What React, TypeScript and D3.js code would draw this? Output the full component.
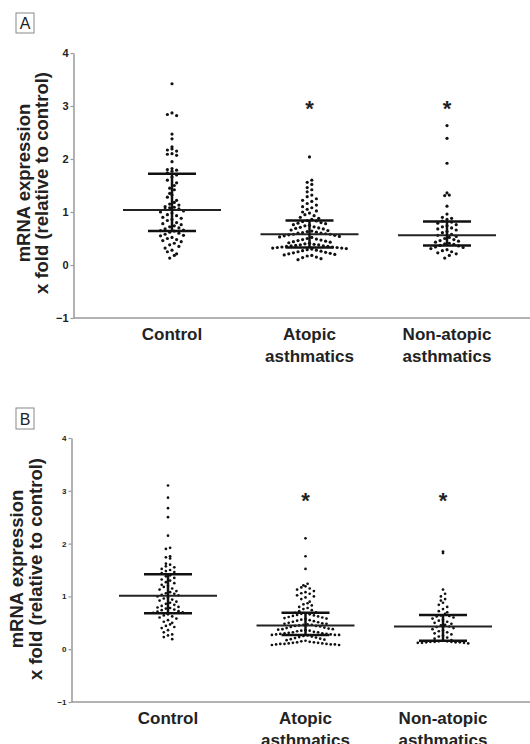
import React, { useEffect, useRef } from 'react';
import * as d3 from 'd3';

// categories and tick labels
const categories = ['Control', 'Atopic asthmatics', 'Non-atopic asthmatics'];
const categoryLines = [['Control'], ['Atopic', 'asthmatics'], ['Non-atopic', 'asthmatics']];
const yTicks = [-1, 0, 1, 2, 3, 4];
const yTitleLines = ['mRNA expression', 'x fold (relative to control)'];

// panel A values
const controlA = [
  3.42, 2.87, 2.84, 2.82, 2.47, 2.38, 2.23, 2.19, 2.17, 2.15, 2.1, 2.09, 2.07, 1.95, 1.82, 1.8, 1.79, 1.77, 1.74,
  1.7, 1.66, 1.6, 1.55, 1.5, 1.45, 1.42, 1.35, 1.32, 1.28, 1.22, 1.18, 1.15, 1.13, 1.1, 1.09, 1.08, 1.06, 1.05,
  1.02, 1.0, 0.98, 0.95, 0.93, 0.9, 0.88, 0.86, 0.84, 0.8, 0.78, 0.76, 0.74, 0.72, 0.7, 0.68, 0.66, 0.65, 0.64,
  0.62, 0.6, 0.58, 0.56, 0.55, 0.52, 0.5, 0.48, 0.46, 0.44, 0.41, 0.38, 0.35, 0.32, 0.28, 0.25, 0.21, 0.18, 0.13,
];
const atopicA = [
  2.04, 1.6, 1.56, 1.52, 1.46, 1.42, 1.38, 1.32, 1.29, 1.25, 1.22, 1.2, 1.16, 1.13, 1.1, 1.08, 1.05, 1.02, 1.0,
  0.98, 0.95, 0.93, 0.9, 0.88, 0.86,
  0.84, 0.83, 0.82, 0.8, 0.79, 0.78, 0.76, 0.75, 0.74, 0.72, 0.71, 0.7, 0.69, 0.68, 0.66, 0.65, 0.64, 0.63, 0.62,
  0.61, 0.6, 0.6, 0.59, 0.58, 0.58,
  0.57, 0.56, 0.55, 0.54, 0.53, 0.52, 0.5, 0.49, 0.48, 0.47, 0.46, 0.45, 0.44, 0.43, 0.42, 0.41, 0.4, 0.39, 0.38,
  0.38, 0.37, 0.36, 0.36, 0.35, 0.35,
  0.34, 0.34, 0.33, 0.33, 0.32, 0.32, 0.31, 0.3, 0.29, 0.28, 0.27, 0.26, 0.25, 0.24, 0.23, 0.22, 0.21, 0.2, 0.19,
  0.18, 0.17, 0.15, 0.14, 0.12, 0.1,
];
const nonAtopicA = [
  2.63, 2.39, 1.92, 1.36, 1.32, 1.31, 1.11, 0.96, 0.9, 0.88, 0.86, 0.83,
  0.81, 0.79, 0.76, 0.74, 0.72, 0.7, 0.68, 0.66, 0.63, 0.61, 0.58,
  0.56, 0.54, 0.52, 0.5, 0.48, 0.46, 0.45, 0.43, 0.41, 0.4, 0.39,
  0.37, 0.36, 0.34, 0.33, 0.31, 0.29, 0.27, 0.25, 0.23, 0.21, 0.18, 0.13,
];
const medianA = [1.04, 0.58, 0.56];
const lowerA = [0.64, 0.33, 0.37];
const upperA = [1.72, 0.84, 0.82];
const starA = [null, 3.04, 3.04];

// panel B values
const controlB = [
  3.1, 2.87, 2.67, 2.5, 2.15, 1.92, 1.9, 1.76, 1.74, 1.72, 1.62, 1.6, 1.57, 1.55, 1.52, 1.5, 1.48, 1.46, 1.44,
  1.4, 1.38, 1.35, 1.32, 1.3, 1.27, 1.25, 1.22, 1.2, 1.18, 1.15, 1.13, 1.1, 1.08, 1.06, 1.05, 1.03, 1.02, 1.0,
  0.98, 0.96, 0.94, 0.92, 0.9, 0.88, 0.86, 0.84, 0.82, 0.8, 0.79, 0.78, 0.77, 0.75, 0.74, 0.72, 0.71, 0.7, 0.69,
  0.66, 0.64, 0.62, 0.6, 0.58, 0.55, 0.52, 0.5, 0.47, 0.44, 0.42, 0.4, 0.36, 0.32, 0.28, 0.26, 0.23, 0.19,
];
const atopicB = [
  2.1, 1.76, 1.52, 1.24, 1.21, 1.19, 1.17, 1.15, 1.13, 1.1, 1.08, 1.06, 1.05, 1.02, 1.0, 0.98, 0.95, 0.9, 0.87,
  0.85, 0.83, 0.8, 0.78, 0.76, 0.74, 0.72, 0.7,
  0.69, 0.68, 0.67, 0.66, 0.65, 0.64, 0.63, 0.62, 0.61, 0.6, 0.59, 0.58, 0.57, 0.56, 0.55, 0.54, 0.53, 0.52, 0.51,
  0.5, 0.49, 0.48, 0.48, 0.47, 0.46, 0.46, 0.45,
  0.44, 0.44, 0.43, 0.42, 0.41, 0.4, 0.39, 0.38, 0.38, 0.37, 0.36, 0.35, 0.35, 0.34, 0.33, 0.32, 0.32, 0.31, 0.3,
  0.3, 0.29, 0.29, 0.28, 0.28, 0.27, 0.27, 0.27,
  0.26, 0.25, 0.24, 0.23, 0.22, 0.21, 0.2, 0.19, 0.18, 0.17, 0.16, 0.15, 0.14, 0.13, 0.13, 0.12, 0.12, 0.11, 0.11,
  0.1, 0.1, 0.1, 0.09, 0.09, 0.09, 0.08, 0.08,
];
const nonAtopicB = [
  1.85, 1.82, 1.13, 1.05, 1.0, 0.95, 0.92, 0.88, 0.84, 0.8, 0.76, 0.72, 0.7, 0.67,
  0.64, 0.63, 0.62, 0.6, 0.58, 0.56, 0.54, 0.52, 0.5, 0.48, 0.46, 0.45, 0.43,
  0.42, 0.4, 0.38, 0.36, 0.34, 0.32, 0.3, 0.28, 0.26, 0.24, 0.22, 0.2, 0.17,
  0.16, 0.15, 0.15, 0.14, 0.14, 0.14, 0.13, 0.13, 0.13, 0.12, 0.12, 0.12, 0.11,
];
const medianB = [1.01, 0.45, 0.43];
const lowerB = [0.68, 0.27, 0.16];
const upperB = [1.42, 0.69, 0.65];
const starB = [null, 2.9, 2.9];

const panels = [
  {
    letter: 'A', series: [controlA, atopicA, nonAtopicA], median: medianA, lower: lowerA, upper: upperA, star: starA,
    box: { x: 16, y: 13, w: 18, h: 20 },
    top: 53, bottom: 318, axisX: 73.5, first: 172, last: 447,
    tickFont: 11, titleBase: [30, 48], titleMid: 183, labelY: 340,
    r: 1.6, dx: 4.6, bin: 6,
  },
  {
    letter: 'B', series: [controlB, atopicB, nonAtopicB], median: medianB, lower: lowerB, upper: upperB, star: starB,
    box: { x: 16, y: 408, w: 18, h: 21 },
    top: 438, bottom: 702, axisX: 71.5, first: 168, last: 443,
    tickFont: 8, titleBase: [23, 42], titleMid: 569, labelY: 724,
    r: 1.35, dx: 4.2, bin: 5.5,
  },
];

// spread points that share a row sideways, Prism style
const swarm = (values, y, cx, dx, bin) => {
  const rows = d3.group(values, (v) => Math.round(y(v) / bin));
  const out = [];
  rows.forEach((row) => {
    const n = row.length;
    row.forEach((v, i) => {
      // fill from the centre outwards, alternating sides
      const k = i % 2 === 0 ? i / 2 : -(i + 1) / 2;
      const off = n % 2 === 0 ? k + 0.5 : k;
      out.push({ x: cx + off * dx, y: y(v) });
    });
  });
  return out;
};

const App = () => {
  const ref = useRef(null);

  useEffect(() => {
    document.body.style.margin = '0';
    const svg = d3.select(ref.current);
    svg.selectAll('*').remove();
    const font = 'Liberation Sans, Arial, sans-serif';

    panels.forEach((p) => {
      const g = svg.append('g');
      const y = d3.scaleLinear().domain([-1, 4]).range([p.bottom, p.top]);
      const x = d3.scalePoint().domain(categories).range([p.first, p.last]);

      // panel letter
      g.append('rect')
        .attr('x', p.box.x).attr('y', p.box.y).attr('width', p.box.w).attr('height', p.box.h)
        .attr('fill', 'white').attr('stroke', '#888').attr('stroke-width', 1);
      g.append('text')
        .attr('x', p.box.x + p.box.w / 2).attr('y', p.box.y + p.box.h / 2 + 6)
        .attr('text-anchor', 'middle').attr('font-family', font).attr('font-size', 16)
        .attr('fill', '#222').text(p.letter);

      // y axis
      const yAxis = g.append('g')
        .attr('transform', `translate(${p.axisX},0)`)
        .call(d3.axisLeft(y).tickValues(yTicks).tickSize(3).tickSizeOuter(0).tickPadding(2).tickFormat(d3.format('d')));
      yAxis.select('.domain').attr('stroke', '#999').attr('stroke-width', 1.5);
      yAxis.selectAll('.tick line').attr('stroke', '#999').attr('stroke-width', 1.2);
      yAxis.selectAll('.tick text')
        .attr('font-family', font).attr('font-size', p.tickFont).attr('font-weight', 'bold').attr('fill', '#222');

      // x axis line
      g.append('line')
        .attr('x1', p.axisX).attr('x2', 530).attr('y1', y(-1)).attr('y2', y(-1))
        .attr('stroke', '#999').attr('stroke-width', 1.5);

      // y title
      yTitleLines.forEach((t, i) => {
        g.append('text')
          .attr('transform', `translate(${p.titleBase[i]},${p.titleMid}) rotate(-90)`)
          .attr('text-anchor', 'middle').attr('font-family', font).attr('font-size', 18.5)
          .attr('font-weight', 'bold').attr('fill', '#222').text(t);
      });

      // category labels
      categories.forEach((c, ci) => {
        categoryLines[ci].forEach((line, li) => {
          g.append('text')
            .attr('x', x(c)).attr('y', p.labelY + li * 22)
            .attr('text-anchor', 'middle').attr('font-family', font).attr('font-size', 17)
            .attr('font-weight', 'bold').attr('fill', '#222').text(line);
        });
      });

      // dots
      p.series.forEach((vals, ci) => {
        const pts = swarm(vals, y, x(categories[ci]), p.dx, p.bin);
        g.append('g').selectAll('circle').data(pts).enter().append('circle')
          .attr('cx', (d) => d.x).attr('cy', (d) => d.y).attr('r', p.r).attr('fill', '#111');
      });

      // median and interquartile range
      categories.forEach((c, ci) => {
        const cx = x(c);
        g.append('line')
          .attr('x1', cx - 49).attr('x2', cx + 49).attr('y1', y(p.median[ci])).attr('y2', y(p.median[ci]))
          .attr('stroke', '#222').attr('stroke-width', 2);
        g.append('line')
          .attr('x1', cx).attr('x2', cx).attr('y1', y(p.lower[ci])).attr('y2', y(p.upper[ci]))
          .attr('stroke', '#111').attr('stroke-width', 2.5);
        [p.lower[ci], p.upper[ci]].forEach((v) => {
          g.append('line')
            .attr('x1', cx - 24).attr('x2', cx + 24).attr('y1', y(v)).attr('y2', y(v))
            .attr('stroke', '#111').attr('stroke-width', 2.5);
        });
        if (p.star[ci] != null) {
          g.append('text')
            .attr('x', cx).attr('y', y(p.star[ci]) + 12)
            .attr('text-anchor', 'middle').attr('font-family', font).attr('font-size', 22)
            .attr('font-weight', 'bold').attr('fill', '#222').text('*');
        }
      });
    });
  }, []);

  return <svg ref={ref} width={530} height={744} style={{ display: 'block', background: 'white' }} />;
};

export default App;
